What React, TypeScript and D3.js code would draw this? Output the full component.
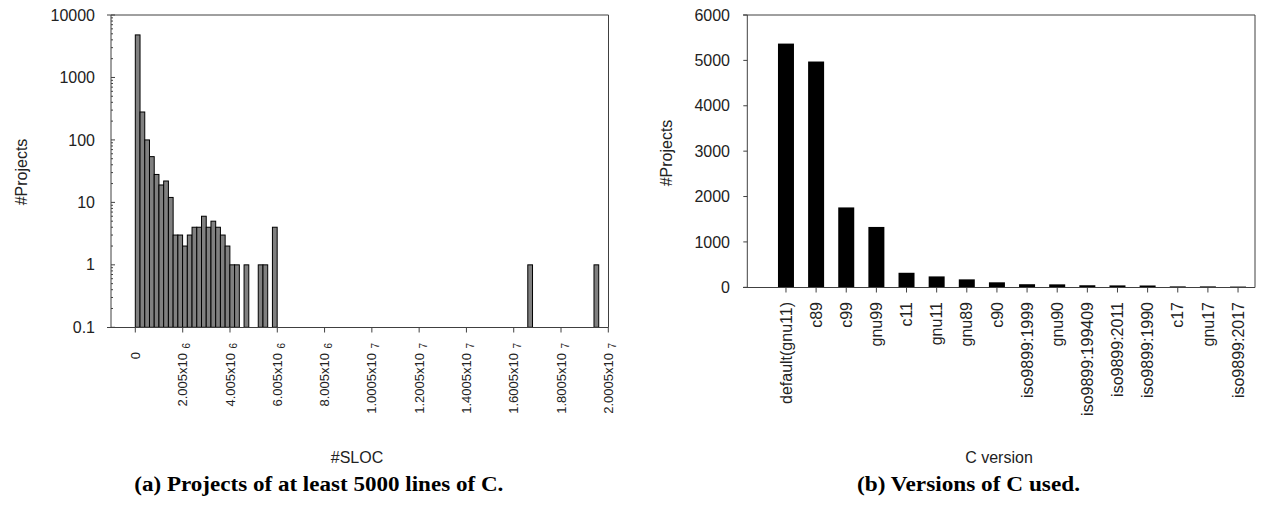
import React from 'react';
import * as d3 from 'd3';

// (a) histogram of project size, bins of 200000 SLOC (only non-empty bins)
const slocBinStart = [
  0, 200000, 400000, 600000, 800000, 1000000, 1200000, 1400000, 1600000, 1800000,
  2000000, 2200000, 2400000, 2600000, 2800000, 3000000, 3200000, 3400000, 3600000, 3800000,
  4000000, 4200000, 4600000, 5200000, 5400000, 5800000, 16600000, 19400000,
];
const slocCounts = [
  4800, 280, 100, 54, 28, 19, 22, 12, 3, 3,
  2, 3, 4, 4, 6, 4, 5, 4, 3, 2,
  1, 1, 1, 1, 1, 4, 1, 1,
];
const slocBinWidth = 200000;
const slocTickValues = [0, 2005000, 4005000, 6005000, 8005000, 10005000, 12005000, 14005000, 16005000, 18005000, 20005000];
const slocTickMantissa = ['0', '2.005x10', '4.005x10', '6.005x10', '8.005x10', '1.0005x10', '1.2005x10', '1.4005x10', '1.6005x10', '1.8005x10', '2.0005x10'];
const slocTickExp = ['', '6', '6', '6', '6', '7', '7', '7', '7', '7', '7'];
const projLogTicks = [0.1, 1, 10, 100, 1000, 10000];

// (b) C versions
const versions = [
  'default(gnu11)', 'c89', 'c99', 'gnu99', 'c11', 'gnu11', 'gnu89', 'c90',
  'iso9899:1999', 'gnu90', 'iso9899:199409', 'iso9899:2011', 'iso9899:1990', 'c17', 'gnu17', 'iso9899:2017',
];
const versionCounts = [5370, 4975, 1760, 1330, 320, 240, 175, 110, 68, 65, 45, 42, 40, 20, 20, 16];
const versionTicks = [0, 1000, 2000, 3000, 4000, 5000, 6000];

const SANS = '"Liberation Sans", Arial, sans-serif';
const SERIF = '"Liberation Serif", "Times New Roman", serif';
const AXIS = '#404040';

function LeftChart() {
  const x = d3.scaleLinear().domain([0, 20005000]).range([135.3, 608.3]);
  const y = d3.scaleLog().domain([0.1, 10000]).range([327.3, 15]);
  const left = 111, right = 608.5, top = 15, bottom = 327.5;
  const minor: number[] = [];
  for (let d = 0.1; d < 10000; d *= 10) {
    for (let k = 2; k <= 9; k++) minor.push(d * k);
  }
  return (
    <g>
      {slocBinStart.map((s, i) => (
        <rect key={i} x={x(s)} y={y(slocCounts[i])} width={x(s + slocBinWidth) - x(s)}
          height={y(0.1) - y(slocCounts[i])} fill="#808080" stroke="#000" strokeWidth={1} />
      ))}
      <line x1={107} x2={right} y1={top} y2={top} stroke={AXIS} />
      <line x1={right} x2={right} y1={top} y2={bottom} stroke={AXIS} />
      <line x1={left} x2={left} y1={top} y2={bottom} stroke={AXIS} />
      <line x1={107} x2={right} y1={bottom} y2={bottom} stroke={AXIS} />
      {minor.map((v, i) => (
        <line key={i} x1={left} x2={left + 2} y1={y(v)} y2={y(v)} stroke={AXIS} />
      ))}
      {projLogTicks.map((v, i) => (
        <g key={i}>
          <line x1={left} x2={left + 4} y1={y(v)} y2={y(v)} stroke={AXIS} />
          <text x={95} y={y(v)} dy="0.35em" textAnchor="end" fontSize={16} fontFamily={SANS} fill="#222">{v}</text>
        </g>
      ))}
      {slocTickValues.map((v, i) => (
        <g key={i}>
          <line x1={x(v)} x2={x(v)} y1={bottom} y2={bottom + 5} stroke={AXIS} />
          <text transform={`translate(${x(v)},${slocTickExp[i] ? 353 : 352}) rotate(-90)`} dy="0.35em"
            textAnchor="end" fontSize={13} fontFamily={SANS} fill="#222">{slocTickMantissa[i]}</text>
          {slocTickExp[i] && (
            <text transform={`translate(${x(v) + 4},343) rotate(-90)`} dy="0.35em"
              textAnchor="end" fontSize={10} fontFamily={SANS} fill="#222">{slocTickExp[i]}</text>
          )}
        </g>
      ))}
      <text transform={`translate(27,172) rotate(-90)`} textAnchor="middle" fontSize={16} fontFamily={SANS} fill="#222">#Projects</text>
      <text x={357} y={463} textAnchor="middle" fontSize={16} fontFamily={SANS} fill="#222">#SLOC</text>
      <text x={134.3} y={491} fontSize={20} fontWeight="bold" fontFamily={SERIF} fill="#000"
        textLength={369} lengthAdjust="spacingAndGlyphs">(a)  Projects of at least 5000 lines of C.</text>
    </g>
  );
}

function RightChart() {
  const x = d3.scaleBand<string>().domain(versions).range([770.9, 1253.1]);
  const y = d3.scaleLinear().domain([0, 6000]).range([287.3, 15]);
  const left = 747.3, right = 1255, top = 15, bottom = 287.5;
  const bw = 16;
  return (
    <g>
      {versions.map((c, i) => (
        <rect key={c} x={x(c)! + x.bandwidth() / 2 - bw / 2} y={y(versionCounts[i])} width={bw}
          height={y(0) - y(versionCounts[i])} fill="#000" />
      ))}
      <line x1={743} x2={right} y1={top} y2={top} stroke={AXIS} />
      <line x1={right} x2={right} y1={top} y2={bottom} stroke={AXIS} />
      <line x1={left} x2={left} y1={top} y2={bottom} stroke={AXIS} />
      <line x1={743} x2={right} y1={bottom} y2={bottom} stroke={AXIS} />
      {versionTicks.map((v) => (
        <g key={v}>
          <line x1={left - 4} x2={left} y1={y(v)} y2={y(v)} stroke={AXIS} />
          <text x={730} y={y(v)} dy="0.35em" textAnchor="end" fontSize={16} fontFamily={SANS} fill="#222">{v}</text>
        </g>
      ))}
      {versions.map((c) => {
        const cx = x(c)! + x.bandwidth() / 2;
        return (
          <g key={c}>
            <line x1={cx} x2={cx} y1={bottom} y2={bottom + 5} stroke={AXIS} />
            <text transform={`translate(${cx},302) rotate(-90)`} dy="0.35em" textAnchor="end"
              fontSize={16} fontFamily={SANS} fill="#222">{c}</text>
          </g>
        );
      })}
      <text transform={`translate(672,153) rotate(-90)`} textAnchor="middle" fontSize={16} fontFamily={SANS} fill="#222">#Projects</text>
      <text x={999} y={463} textAnchor="middle" fontSize={16} fontFamily={SANS} fill="#222">C version</text>
      <text x={857} y={491} fontSize={20} fontWeight="bold" fontFamily={SERIF} fill="#000"
        textLength={223} lengthAdjust="spacingAndGlyphs">(b)  Versions of C used.</text>
    </g>
  );
}

export default function App() {
  return (
    <div style={{ position: 'absolute', left: 0, top: 0 }}>
      <svg width={1261} height={515} style={{ display: 'block', background: '#fff' }}>
        <LeftChart />
        <RightChart />
      </svg>
    </div>
  );
}
